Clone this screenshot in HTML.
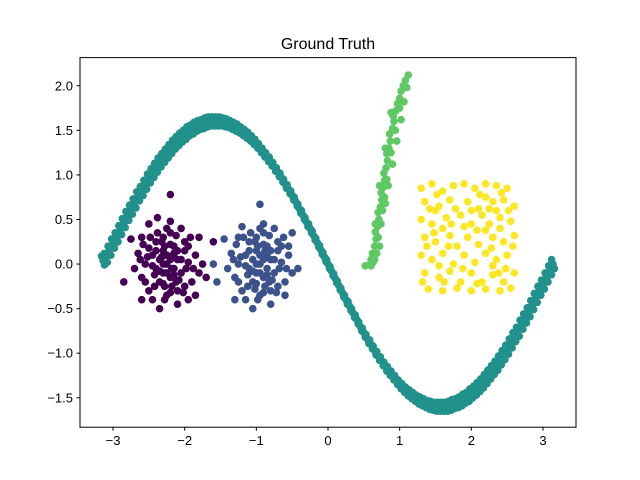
<!DOCTYPE html>
<html><head><meta charset="utf-8"><style>
body{margin:0;background:#fff;}
svg{display:block;font-family:"Liberation Sans","DejaVu Sans",sans-serif;}
</style></head><body>
<svg id="chart" width="640" height="480" viewBox="0 0 640 480">
<rect width="640" height="480" fill="#fff"/>
<text x="328" y="49" text-anchor="middle" font-size="16" fill="#000">Ground Truth</text>
<g id="marks"></g>
<rect x="80" y="57.6" width="496" height="369.6" fill="none" stroke="#000" stroke-width="1"/>
<g id="axes"></g>
</svg>
<script>
const xTicks=[-3,-2,-1,0,1,2,3];
const yTicks=[-1.5,-1.0,-0.5,0.0,0.5,1.0,1.5,2.0];
const yTickLabels=["−1.5","−1.0","−0.5","0.0","0.5","1.0","1.5","2.0"];
const sineX=[-3.14,-3.1,-3.05,-3.0,-2.95,-2.9,-2.85,-2.8,-2.75,-2.7,-2.65,-2.6,-2.55,-2.5,-2.45,-2.4,-2.35,-2.3,-2.25,-2.2,-2.15,-2.1,-2.05,-2.0,-1.95,-1.9,-1.85,-1.8,-1.75,-1.7,-1.65,-1.6,-1.55,-1.5,-1.45,-1.4,-1.35,-1.3,-1.25,-1.2,-1.15,-1.1,-1.05,-1.0,-0.95,-0.9,-0.85,-0.8,-0.75,-0.7,-0.65,-0.6,-0.55,-0.5,-0.45,-0.4,-0.35,-0.3,-0.25,-0.2,-0.15,-0.1,-0.05,0,0.05,0.1,0.15,0.2,0.25,0.3,0.35,0.4,0.45,0.5,0.55,0.6,0.65,0.7,0.75,0.8,0.85,0.9,0.95,1.0,1.05,1.1,1.15,1.2,1.25,1.3,1.35,1.4,1.45,1.5,1.55,1.6,1.65,1.7,1.75,1.8,1.85,1.9,1.95,2.0,2.05,2.1,2.15,2.2,2.25,2.3,2.35,2.4,2.45,2.5,2.55,2.6,2.65,2.7,2.75,2.8,2.85,2.9,2.95,3.0,3.05,3.1,3.14];
const sineY=[0.04,0.07,0.15,0.23,0.30,0.38,0.46,0.54,0.61,0.68,0.76,0.82,0.89,0.96,1.02,1.08,1.14,1.19,1.24,1.29,1.34,1.38,1.42,1.45,1.49,1.51,1.54,1.56,1.57,1.59,1.60,1.60,1.60,1.60,1.59,1.58,1.56,1.54,1.52,1.49,1.46,1.43,1.39,1.35,1.30,1.25,1.20,1.15,1.09,1.03,0.97,0.90,0.84,0.77,0.70,0.62,0.55,0.47,0.40,0.32,0.24,0.16,0.08,0,-0.08,-0.16,-0.24,-0.32,-0.40,-0.47,-0.55,-0.62,-0.70,-0.77,-0.84,-0.90,-0.97,-1.03,-1.09,-1.15,-1.20,-1.25,-1.30,-1.35,-1.39,-1.43,-1.46,-1.49,-1.52,-1.54,-1.56,-1.58,-1.59,-1.60,-1.60,-1.60,-1.60,-1.59,-1.57,-1.56,-1.54,-1.51,-1.49,-1.45,-1.42,-1.38,-1.34,-1.29,-1.24,-1.19,-1.14,-1.08,-1.02,-0.96,-0.89,-0.82,-0.76,-0.68,-0.61,-0.54,-0.46,-0.38,-0.30,-0.23,-0.15,-0.07,0.0];
const purplePts=[[-2.25,0],[-2.1,0.05],[-2.4,-0.05],[-2.3,0.15],[-2.2,-0.15],[-2.05,-0.1],[-2.45,0.1],[-2.35,-0.2],[-2.15,0.2],[-2.55,0],[-1.95,0.02],[-2.3,0.3],[-2.2,0.35],[-2.6,-0.15],[-2.0,-0.25],[-2.4,0.25],[-2.1,-0.3],[-2.5,-0.3],[-1.85,0.1],[-2.65,0.12],[-2.25,-0.35],[-2.3,-0.1],[-2.15,0.08],[-2.35,0.05],[-2.2,0.48],[-2.0,0.25],[-2.6,0.3],[-1.9,-0.2],[-2.45,-0.4],[-2.7,-0.05],[-1.8,-0.1],[-2.05,0.4],[-2.2,0.78],[-2.85,-0.2],[-1.6,0.25],[-1.7,-0.15],[-2.75,0.28],[-2.5,0.45],[-2.1,-0.45],[-2.35,-0.5],[-2.0,0.15],[-2.28,0.2],[-2.12,-0.2],[-2.42,-0.12],[-2.5,0.18],[-1.85,-0.35],[-1.75,0.0],[-2.6,-0.4],[-2.38,0.52],[-2.28,-0.25],[-2.18,-0.05],[-2.32,0.08],[-1.95,-0.4],[-1.8,0.3]];
const purpleCore=[[-2.25,0.1],[-2.15,-0.05],[-2.35,-0.08],[-2.1,0.15],[-2.4,0.15],[-2.2,0.22],[-2.3,-0.22],[-2.05,0.05],[-2.45,-0.02],[-2.18,-0.25],[-2.32,0.25],[-2.08,-0.18],[-2.42,-0.25],[-2.25,-0.1],[-2.12,0.32],[-2.38,0.35],[-1.98,-0.05],[-2.52,0.08],[-2.25,0.4],[-2.55,-0.2],[-1.95,0.2],[-2.02,-0.32],[-2.48,0.3],[-2.2,0.05],[-2.3,0.0],[-2.15,-0.12],[-2.28,-0.4],[-2.62,0.05],[-1.88,-0.05],[-2.2,-0.32],[-1.92,0.3],[-2.58,0.22],[-2.15,0.12]];
const bluePts=[[-0.95,0],[-0.8,0.05],[-1.1,-0.05],[-1.0,0.15],[-0.9,-0.15],[-0.75,-0.1],[-1.15,0.1],[-1.05,-0.2],[-0.85,0.2],[-1.25,0],[-0.65,0.02],[-1.0,0.3],[-0.9,0.35],[-1.3,-0.15],[-0.7,-0.25],[-1.1,0.25],[-0.8,-0.3],[-1.2,-0.3],[-0.55,0.1],[-1.35,0.12],[-0.95,-0.35],[-1.0,-0.1],[-0.85,0.08],[-1.05,0.05],[-0.9,0.45],[-0.7,0.25],[-1.25,0.3],[-0.6,-0.2],[-1.15,-0.4],[-1.4,-0.05],[-0.5,-0.1],[-0.75,0.4],[-0.95,0.67],[-1.55,-0.2],[-0.55,0.2],[-0.42,-0.05],[-1.45,0.28],[-1.2,0.42],[-0.8,-0.45],[-1.05,-0.5],[-0.7,0.15],[-0.98,0.2],[-0.82,-0.2],[-1.12,-0.12],[-1.6,0.0],[-0.6,-0.35],[-0.5,0.35],[-1.3,-0.4],[-0.88,0.15],[-1.02,-0.28]];
const blueCore=[[-0.95,0.1],[-0.85,-0.05],[-1.05,-0.08],[-0.8,0.15],[-1.1,0.15],[-0.9,0.22],[-1.0,-0.22],[-0.75,0.05],[-1.15,-0.02],[-0.88,-0.25],[-1.02,0.25],[-0.78,-0.18],[-1.12,-0.25],[-0.95,-0.1],[-0.82,0.32],[-1.08,0.35],[-0.68,-0.05],[-1.22,0.08],[-0.95,0.4],[-1.25,-0.2],[-0.65,0.2],[-0.72,-0.32],[-1.18,0.3],[-0.9,0.05],[-1.0,0.0],[-0.85,-0.12],[-0.98,-0.4],[-1.32,0.05],[-0.58,-0.05],[-0.9,-0.32],[-0.62,0.3],[-1.28,0.22],[-0.85,0.12]];
const greenPts=[[0.52,-0.02],[0.58,-0.01],[0.6,0.05],[0.62,0.12],[0.65,0.2],[0.67,0.28],[0.66,0.36],[0.69,0.42],[0.71,0.5],[0.7,0.58],[0.73,0.64],[0.75,0.72],[0.74,0.8],[0.77,0.86],[0.79,0.94],[0.78,1.02],[0.81,1.08],[0.83,1.16],[0.82,1.24],[0.85,1.3],[0.87,1.38],[0.86,1.46],[0.9,1.52],[0.92,1.6],[0.91,1.66],[0.95,1.72],[0.97,1.8],[1.0,1.86],[1.02,1.94],[1.05,2.0],[1.08,2.06],[1.12,2.12],[0.65,0.05],[0.7,0.3],[0.76,0.6],[0.82,0.95],[0.88,1.25],[0.94,1.5],[1.0,1.75],[0.72,0.2],[0.79,0.75],[0.63,0.02],[0.68,0.12],[0.74,0.45],[0.8,0.68],[0.84,0.88],[0.9,1.12],[0.96,1.38],[1.02,1.62],[1.06,1.82],[1.1,1.98],[0.6,-0.02],[0.66,0.45],[0.72,0.88],[0.8,1.3],[0.88,1.7]];
const yellowPts=[[1.3,0.85],[1.45,0.9],[1.6,0.82],[1.75,0.88],[1.9,0.9],[2.05,0.85],[2.2,0.9],[2.35,0.88],[2.5,0.85],[1.35,0.7],[1.55,0.65],[1.7,0.72],[1.95,0.7],[2.1,0.62],[2.3,0.7],[2.45,0.72],[2.6,0.65],[1.3,0.5],[1.45,0.45],[1.65,0.52],[1.85,0.55],[2.0,0.45],[2.15,0.55],[2.25,0.45],[2.4,0.52],[2.55,0.48],[1.35,0.3],[1.5,0.25],[1.7,0.32],[1.8,0.2],[1.95,0.3],[2.1,0.22],[2.3,0.3],[2.45,0.25],[2.6,0.32],[1.3,0.1],[1.45,0.05],[1.6,0.12],[1.75,0.0],[1.9,0.1],[2.05,0.02],[2.2,0.12],[2.35,0.05],[2.5,0.1],[1.35,-0.1],[1.55,-0.15],[1.7,-0.08],[1.85,-0.2],[2.0,-0.1],[2.15,-0.2],[2.3,-0.12],[2.45,-0.2],[2.6,-0.1],[1.4,-0.28],[1.6,-0.3],[1.8,-0.27],[2.0,-0.3],[2.2,-0.28],[2.4,-0.3],[2.55,-0.27],[1.5,0.6],[2.2,0.75],[1.6,0.4],[2.4,0.4],[1.55,-0.02],[2.3,-0.02],[1.9,0.42],[2.25,0.62],[1.38,0.2],[1.42,0.62],[1.52,0.78],[1.68,0.2],[1.78,0.62],[1.88,-0.05],[2.08,0.38],[2.12,0.78],[2.28,0.18],[2.38,-0.1],[2.52,0.6],[2.58,0.2],[1.32,-0.2],[1.62,-0.2],[2.08,-0.22],[2.42,0.8],[2.2,0.38],[2.0,0.6],[1.48,0.35],[2.35,0.6],[2.48,-0.05],[1.72,0.45]];

const NS="http://www.w3.org/2000/svg";
const L=80,R=576,T=57.6,B=427.2,xMin=-3.461,xMax=3.461,yMin=-1.83,yMax=2.316;
function sx(v){return L+(v-xMin)/(xMax-xMin)*(R-L);}
function sy(v){return B-(v-yMin)/(yMax-yMin)*(B-T);}
const marks=document.getElementById('marks');
const axes=document.getElementById('axes');
function dot(x,y,c,name){
  const e=document.createElementNS(NS,'circle');
  e.setAttribute('cx',sx(x));e.setAttribute('cy',sy(y));e.setAttribute('r',3.8);e.setAttribute('fill',c);
  
  
  marks.appendChild(e);
}
for(let i=0;i<sineX.length;i++){
  dot(sineX[i]-0.02,sineY[i]+0.05,'#21918c','moon-point');
  dot(sineX[i],sineY[i],'#21918c','moon-point');
  dot(sineX[i]+0.02,sineY[i]-0.05,'#21918c','moon-point');
}
purplePts.forEach(p=>dot(p[0],p[1],'#440154','blob1-point'));
purpleCore.forEach(p=>dot(p[0],p[1],'#440154','blob1-point'));
bluePts.forEach(p=>dot(p[0],p[1],'#3b528b','blob2-point'));
blueCore.forEach(p=>dot(p[0],p[1],'#3b528b','blob2-point'));
greenPts.forEach(p=>dot(p[0],p[1],'#5ec962','line-point'));
yellowPts.forEach(p=>dot(p[0],p[1],'#fde725','square-point'));
xTicks.forEach(t=>{
  const l=document.createElementNS(NS,'line');
  l.setAttribute('x1',sx(t));l.setAttribute('x2',sx(t));l.setAttribute('y1',B);l.setAttribute('y2',B+3.5);l.setAttribute('stroke','#000');
  
  
  axes.appendChild(l);
  const tx=document.createElementNS(NS,'text');
  tx.setAttribute('x',sx(t));tx.setAttribute('y',B+18);tx.setAttribute('text-anchor','middle');tx.setAttribute('font-size','13');
  tx.textContent=t<0?'−'+Math.abs(t):String(t);
  
  
  axes.appendChild(tx);
});
yTicks.forEach((t,i)=>{
  const l=document.createElementNS(NS,'line');
  l.setAttribute('x1',L-3.5);l.setAttribute('x2',L);l.setAttribute('y1',sy(t));l.setAttribute('y2',sy(t));l.setAttribute('stroke','#000');
  
  
  axes.appendChild(l);
  const tx=document.createElementNS(NS,'text');
  tx.setAttribute('x',L-7);tx.setAttribute('y',sy(t)+4.5);tx.setAttribute('text-anchor','end');tx.setAttribute('font-size','13');
  tx.textContent=yTickLabels[i];
  
  
  axes.appendChild(tx);
});
</script>
</body></html>
